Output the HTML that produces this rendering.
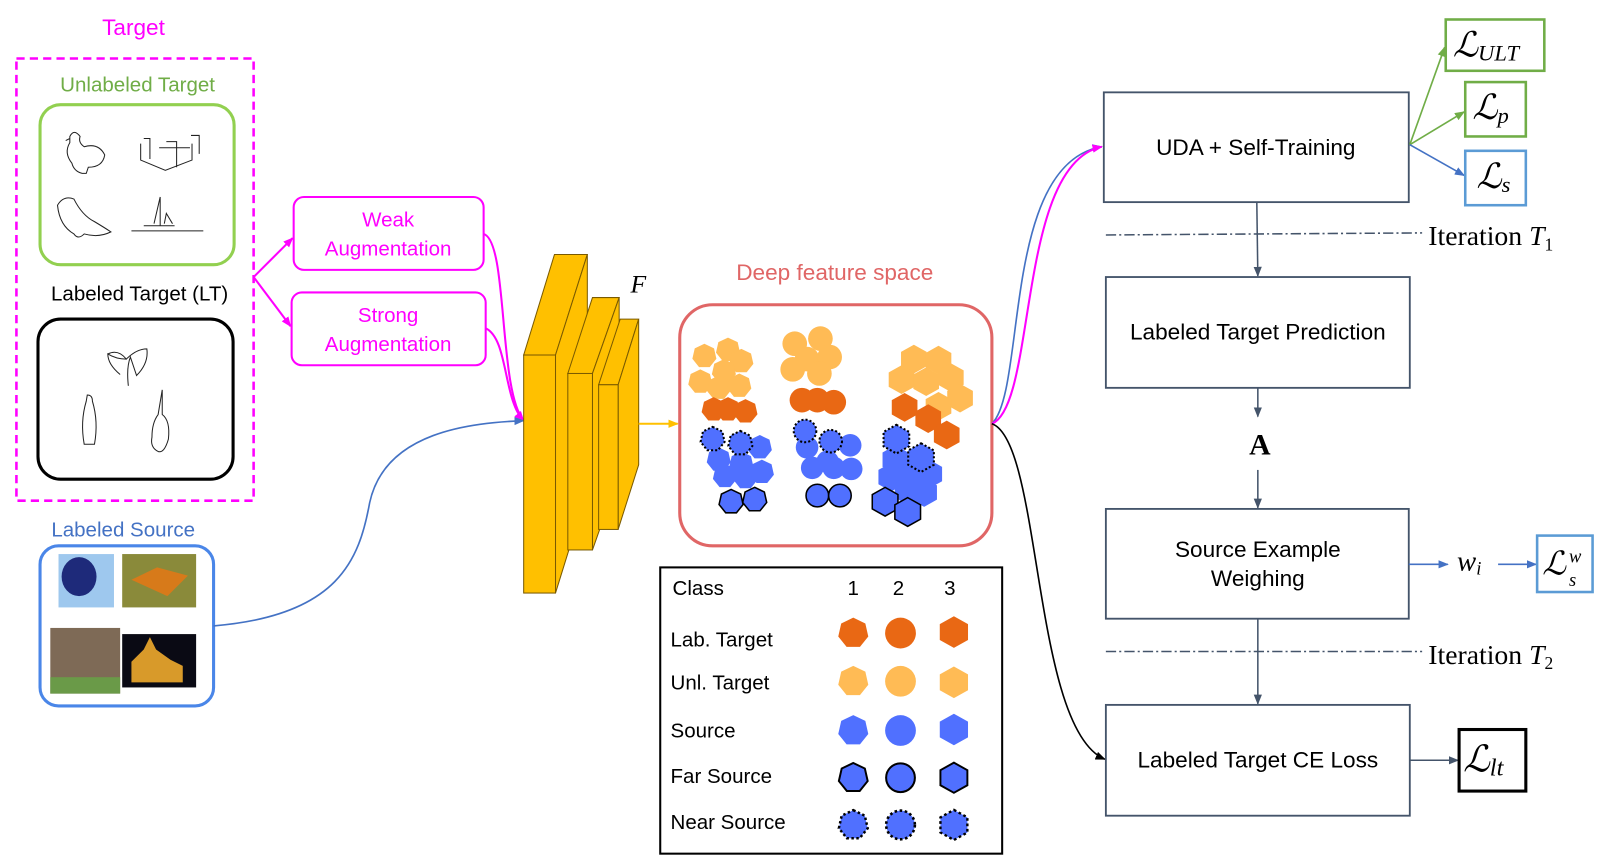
<!DOCTYPE html>
<html><head><meta charset="utf-8"><style>
html,body{margin:0;padding:0;background:#fff;}
svg{display:block;}
.s{font-family:"Liberation Sans",sans-serif;}
.m{font-family:"Liberation Serif","DejaVu Serif",serif;}
</style></head><body>
<svg width="1609" height="867" viewBox="0 0 1567 845" preserveAspectRatio="none" xmlns="http://www.w3.org/2000/svg">
<defs>
<polygon id="hep" points="0,-12 9.4,-7.5 11.7,2.7 5.2,10.8 -5.2,10.8 -11.7,2.7 -9.4,-7.5"/>
<polygon id="hex" points="0,-14 12.5,-7 12.5,7 0,14 -12.5,7 -12.5,-7"/>
<marker id="ab" markerWidth="10" markerHeight="10" refX="9" refY="5" orient="auto" markerUnits="userSpaceOnUse"><path d="M0,1 L10,5 L0,9z" fill="#4472C4"/></marker>
<marker id="ad" markerWidth="10" markerHeight="10" refX="9" refY="5" orient="auto" markerUnits="userSpaceOnUse"><path d="M0,1 L10,5 L0,9z" fill="#44546A"/></marker>
<marker id="ag" markerWidth="10" markerHeight="10" refX="9" refY="5" orient="auto" markerUnits="userSpaceOnUse"><path d="M0,1 L10,5 L0,9z" fill="#70AD47"/></marker>
<marker id="am" markerWidth="10" markerHeight="10" refX="9" refY="5" orient="auto" markerUnits="userSpaceOnUse"><path d="M0,1 L10,5 L0,9z" fill="#FF00FF"/></marker>
<marker id="ak" markerWidth="10" markerHeight="10" refX="9" refY="5" orient="auto" markerUnits="userSpaceOnUse"><path d="M0,1 L10,5 L0,9z" fill="#000"/></marker>
<marker id="ay" markerWidth="10" markerHeight="10" refX="9" refY="5" orient="auto" markerUnits="userSpaceOnUse"><path d="M0,1 L10,5 L0,9z" fill="#FFC000"/></marker>
</defs>

<!-- Left panel -->
<text x="130" y="34" class="s" font-size="22" fill="#FF00FF" text-anchor="middle">Target</text>
<rect x="16" y="57" width="231" height="431" fill="none" stroke="#FF00FF" stroke-width="2.5" stroke-dasharray="8,5"/>
<text x="134" y="89" class="s" font-size="20" fill="#70AD47" text-anchor="middle">Unlabeled Target</text>
<rect x="39" y="102" width="189" height="156" rx="20" fill="none" stroke="#92D050" stroke-width="3"/>
<g fill="none" stroke="#222" stroke-width="1">
<path d="M68,133 q4,-8 10,0 q-2,6 4,10 q14,-4 20,8 q-2,12 -16,12 l-2,6 h-4 q-8,-2 -10,-10 q-8,-10 -2,-20z M64,137 l4,-2"/>
<path d="M137,140 v16 l24,10 l26,-10 v-16 M140,135 h6 v8 M162,138 h10 v25 M186,132 h8 v18 M146,135 v20 M155,144 h30"/>
<path d="M56,200 q6,-10 16,-6 q8,16 20,22 q10,6 16,10 q-12,6 -26,2 q-6,6 -10,0 q-14,-8 -16,-28z"/>
<path d="M128,225 h70 M140,220 h30 M150,218 l6,-26 v28 M160,218 l2,-10 l6,10"/>
</g>
<text x="136" y="293" class="s" font-size="20" fill="#000" text-anchor="middle">Labeled Target (LT)</text>
<rect x="37" y="311" width="190" height="156" rx="22" fill="none" stroke="#000" stroke-width="3"/>
<g fill="none" stroke="#222" stroke-width="1">
<path d="M105,345 q10,-5 18,5 q10,-10 20,-10 q2,14 -10,26 l-6,-18 q-4,10 -2,28 M123,350 q-10,0 -18,-5 q0,10 12,20"/>
<path d="M85,385 q5,0 5,6 q6,20 2,42 h-10 q-4,-22 2,-42z"/>
<path d="M158,380 v24 q8,6 6,24 q-4,14 -10,12 q-8,-4 -6,-14 q0,-14 6,-22 z"/>
</g>
<text x="120" y="523" class="s" font-size="20" fill="#4472C4" text-anchor="middle">Labeled Source</text>
<rect x="39" y="532" width="169" height="156" rx="18" fill="none" stroke="#4A86E8" stroke-width="3"/>
<rect x="57" y="540" width="54" height="52" fill="#9EC8EE"/>
<ellipse cx="77" cy="562" rx="17" ry="19" fill="#1E2A7A"/>
<rect x="119" y="540" width="72" height="52" fill="#8A8A3A"/>
<path d="M128,565 l25,-12 l30,8 l-20,20 z" fill="#D77A1A"/>
<rect x="49" y="612" width="68" height="64" fill="#7E6A56"/>
<rect x="49" y="660" width="68" height="16" fill="#6A9A48"/>
<rect x="119" y="618" width="72" height="52" fill="#0A0A14"/>
<path d="M128,665 v-20 l12,-12 l6,-12 l6,12 l14,10 l12,6 v16z" fill="#D89A2A"/>

<!-- Augmentation boxes -->
<rect x="286" y="192" width="185" height="71" rx="10" fill="#fff" stroke="#FF00FF" stroke-width="2"/>
<text x="378" y="221" class="s" font-size="20" fill="#FF00FF" text-anchor="middle">Weak</text>
<text x="378" y="249" class="s" font-size="20" fill="#FF00FF" text-anchor="middle">Augmentation</text>
<rect x="284" y="285" width="189" height="71" rx="10" fill="#fff" stroke="#FF00FF" stroke-width="2"/>
<text x="378" y="314" class="s" font-size="20" fill="#FF00FF" text-anchor="middle">Strong</text>
<text x="378" y="342" class="s" font-size="20" fill="#FF00FF" text-anchor="middle">Augmentation</text>
<path d="M247,270 L285,232" stroke="#FF00FF" stroke-width="2" fill="none" marker-end="url(#am)"/>
<path d="M247,270 L283,318" stroke="#FF00FF" stroke-width="2" fill="none" marker-end="url(#am)"/>
<path d="M471,228 C495,235 485,380 510,410" stroke="#FF00FF" stroke-width="2" fill="none" marker-end="url(#am)"/>
<path d="M473,320 C495,330 490,390 510,410" stroke="#FF00FF" stroke-width="2" fill="none" marker-end="url(#am)"/>
<path d="M208,610 C330,600 350,545 360,490 C375,420 460,412 510,410" stroke="#4472C4" stroke-width="1.6" fill="none" marker-end="url(#ab)"/>

<!-- CNN blocks -->
<g fill="#FFC000" stroke="#7A5A00" stroke-width="1">
<polygon points="510,346 540,248 572,248 541,346"/>
<polygon points="541,346 572,248 572,478 541,578"/>
<rect x="510" y="346" width="31" height="232"/>
<polygon points="553,364 577,290 603,290 577,364"/>
<polygon points="577,364 603,290 603,462 577,536"/>
<rect x="553" y="364" width="24" height="172"/>
<polygon points="583,375 604,311 622,311 602,375"/>
<polygon points="602,375 622,311 622,453 602,516"/>
<rect x="583" y="375" width="19" height="141"/>
</g>
<text x="614" y="285" class="m" font-size="25" font-style="italic">F</text>
<path d="M622,413 L660,413" stroke="#FFC000" stroke-width="2" fill="none" marker-end="url(#ay)"/>

<!-- Feature space -->
<text x="813" y="273" class="s" font-size="22" fill="#E06666" text-anchor="middle">Deep feature space</text>
<rect x="662" y="297" width="304" height="235" rx="32" fill="none" stroke="#E06666" stroke-width="3"/>
<g fill="#FFBB55">
<use href="#hep" x="686" y="347"/><use href="#hep" x="709" y="341"/><use href="#hep" x="722" y="352"/>
<use href="#hep" x="705" y="362"/><use href="#hep" x="682" y="372"/><use href="#hep" x="700" y="378"/><use href="#hep" x="720" y="376"/>
<circle cx="774" cy="335" r="12"/><circle cx="799" cy="330" r="12"/><circle cx="808" cy="348" r="12"/><circle cx="786" cy="350" r="12"/><circle cx="772" cy="360" r="12"/><circle cx="798" cy="364" r="12"/>
<use href="#hex" x="890" y="350"/><use href="#hex" x="914" y="351"/><use href="#hex" x="878" y="370"/><use href="#hex" x="902" y="372"/><use href="#hex" x="926" y="368"/><use href="#hex" x="935" y="388"/><use href="#hex" x="914" y="396"/>
</g>
<g fill="#E96814">
<use href="#hep" x="695" y="399"/><use href="#hep" x="709" y="399"/><use href="#hep" x="726" y="401"/>
<circle cx="781" cy="390" r="12"/><circle cx="796" cy="390" r="12"/><circle cx="812" cy="392" r="12"/>
<use href="#hex" x="881" y="397"/><use href="#hex" x="904" y="408"/><use href="#hex" x="922" y="424"/>
</g>
<g fill="#5070FF">
<use href="#hep" x="740" y="436"/><use href="#hep" x="700" y="448"/><use href="#hep" x="722" y="452"/><use href="#hep" x="706" y="464"/><use href="#hep" x="726" y="465"/><use href="#hep" x="742" y="460"/>
<circle cx="828" cy="434" r="11"/><circle cx="786" cy="436" r="11"/><circle cx="806" cy="450" r="11"/><circle cx="791" cy="456" r="11"/><circle cx="812" cy="456" r="11"/><circle cx="829" cy="457" r="11"/>
<use href="#hex" x="872" y="448"/><use href="#hex" x="868" y="465"/><use href="#hex" x="888" y="462"/><use href="#hex" x="900" y="480"/><use href="#hex" x="884" y="478"/><use href="#hex" x="905" y="462"/>
</g>
<g fill="#5070FF" stroke="#000" stroke-width="2" stroke-dasharray="2,2">
<use href="#hep" x="694" y="428"/><use href="#hep" x="721" y="432"/>
<circle cx="784" cy="420" r="11"/><circle cx="809" cy="430" r="11"/>
<use href="#hex" x="873" y="428"/><use href="#hex" x="897" y="446"/>
</g>
<g fill="#5070FF" stroke="#000" stroke-width="1.5">
<use href="#hep" x="712" y="489"/><use href="#hep" x="735" y="487"/>
<circle cx="796" cy="483" r="11"/><circle cx="818" cy="483" r="11"/>
<use href="#hex" x="862" y="489"/><use href="#hex" x="884" y="499"/>
</g>

<!-- Legend -->
<rect x="643" y="553" width="333" height="279" fill="none" stroke="#000" stroke-width="2"/>
<g class="s" font-size="20" fill="#000">
<text x="655" y="580">Class</text>
<text x="831" y="580" text-anchor="middle">1</text><text x="875" y="580" text-anchor="middle">2</text><text x="925" y="580" text-anchor="middle">3</text>
<text x="653" y="630">Lab. Target</text>
<text x="653" y="672">Unl. Target</text>
<text x="653" y="719">Source</text>
<text x="653" y="763">Far Source</text>
<text x="653" y="808">Near Source</text>
</g>
<g transform="translate(831,617) scale(1.25)" fill="#E96814"><use href="#hep"/></g>
<circle cx="877" cy="617" r="15" fill="#E96814"/>
<g transform="translate(929,616) scale(1.1)" fill="#E96814"><use href="#hex"/></g>
<g transform="translate(831,664) scale(1.25)" fill="#FFBB55"><use href="#hep"/></g>
<circle cx="877" cy="664" r="15" fill="#FFBB55"/>
<g transform="translate(929,665) scale(1.1)" fill="#FFBB55"><use href="#hex"/></g>
<g transform="translate(831,712) scale(1.25)" fill="#5070FF"><use href="#hep"/></g>
<circle cx="877" cy="712" r="15" fill="#5070FF"/>
<g transform="translate(929,711) scale(1.1)" fill="#5070FF"><use href="#hex"/></g>
<g transform="translate(831,758) scale(1.2)" fill="#5070FF" stroke="#000" stroke-width="1.6"><use href="#hep"/></g>
<circle cx="877" cy="758" r="14" fill="#5070FF" stroke="#000" stroke-width="2"/>
<g transform="translate(929,758) scale(1.05)" fill="#5070FF" stroke="#000" stroke-width="1.8"><use href="#hex"/></g>
<g transform="translate(831,804) scale(1.2)" fill="#5070FF" stroke="#000" stroke-width="2" stroke-dasharray="2,2"><use href="#hep"/></g>
<circle cx="877" cy="804" r="14" fill="#5070FF" stroke="#000" stroke-width="2.5" stroke-dasharray="2.5,2.5"/>
<g transform="translate(929,804) scale(1.05)" fill="#5070FF" stroke="#000" stroke-width="2.2" stroke-dasharray="2.5,2.5"><use href="#hex"/></g>

<!-- Curves to right -->
<path d="M966,413 C1000,380 975,160 1073,143" stroke="#4472C4" stroke-width="1.6" fill="none" marker-end="url(#ab)"/>
<path d="M966,413 C1010,395 990,160 1073,143" stroke="#FF00FF" stroke-width="2" fill="none" marker-end="url(#am)"/>
<path d="M966,413 C1015,430 1005,710 1076,740" stroke="#000" stroke-width="1.6" fill="none" marker-end="url(#ak)"/>

<!-- Right boxes -->
<g fill="#fff" stroke="#44546A" stroke-width="1.8">
<rect x="1075" y="90" width="297" height="107"/>
<rect x="1077" y="270" width="296" height="108"/>
<rect x="1077" y="496" width="295" height="107"/>
<rect x="1077" y="687" width="296" height="108"/>
</g>
<g class="s" font-size="22" fill="#000" text-anchor="middle">
<text x="1223" y="151">UDA + Self-Training</text>
<text x="1225" y="331">Labeled Target Prediction</text>
<text x="1225" y="543">Source Example</text>
<text x="1225" y="571">Weighing</text>
<text x="1225" y="748">Labeled Target CE Loss</text>
</g>
<text x="1227" y="443" class="m" font-size="29" font-weight="bold" text-anchor="middle">A</text>
<g stroke="#44546A" stroke-width="1.5" fill="none">
<path d="M1224,197 L1225,269" marker-end="url(#ad)"/>
<path d="M1225,378 L1225,406" marker-end="url(#ad)"/>
<path d="M1225,458 L1225,495" marker-end="url(#ad)"/>
<path d="M1225,603 L1225,686" marker-end="url(#ad)"/>
<path d="M1077,229 L1385,227" stroke-dasharray="10,3,2,3"/>
<path d="M1077,635 L1385,635" stroke-dasharray="10,3,2,3"/>
<path d="M1373,741 L1420,741" marker-end="url(#ad)"/>
</g>
<text x="1391" y="239" class="m" font-size="27">Iteration <tspan font-style="italic">T</tspan><tspan font-size="17" dy="5">1</tspan></text>
<text x="1391" y="647" class="m" font-size="27">Iteration <tspan font-style="italic">T</tspan><tspan font-size="17" dy="5">2</tspan></text>

<!-- Loss boxes -->
<path d="M1373,141 L1407,46" stroke="#70AD47" stroke-width="1.6" fill="none" marker-end="url(#ag)"/>
<path d="M1373,141 L1426,109" stroke="#70AD47" stroke-width="1.6" fill="none" marker-end="url(#ag)"/>
<path d="M1373,141 L1426,171" stroke="#4472C4" stroke-width="1.6" fill="none" marker-end="url(#ab)"/>
<rect x="1408" y="19" width="96" height="50" fill="#fff" stroke="#70AD47" stroke-width="2.5"/>
<text x="1415" y="55" class="m" font-size="34" font-style="italic">ℒ<tspan font-size="22" dy="4">ULT</tspan></text>
<rect x="1427" y="80" width="59" height="53" fill="#fff" stroke="#70AD47" stroke-width="2.5"/>
<text x="1434" y="116" class="m" font-size="34" font-style="italic">ℒ<tspan font-size="22" dy="4">p</tspan></text>
<rect x="1427" y="147" width="59" height="53" fill="#fff" stroke="#5B9BD5" stroke-width="2.5"/>
<text x="1438" y="183" class="m" font-size="34" font-style="italic">ℒ<tspan font-size="22" dy="4">s</tspan></text>
<path d="M1372,550 L1410,550" stroke="#4472C4" stroke-width="1.6" fill="none" marker-end="url(#ab)"/>
<text x="1419" y="556" class="m" font-size="28" font-style="italic">w<tspan font-size="18" dy="4">i</tspan></text>
<path d="M1459,550 L1496,550" stroke="#4472C4" stroke-width="1.6" fill="none" marker-end="url(#ab)"/>
<rect x="1497" y="522" width="54" height="55" fill="#fff" stroke="#5B9BD5" stroke-width="2.5"/>
<text x="1502" y="560" class="m" font-size="32" font-style="italic">ℒ</text>
<text x="1528" y="548" class="m" font-size="18" font-style="italic">w</text>
<text x="1528" y="571" class="m" font-size="18" font-style="italic">s</text>
<rect x="1421" y="711" width="65" height="60" fill="#fff" stroke="#000" stroke-width="3"/>
<text x="1425" y="752" class="m" font-size="36" font-style="italic">ℒ<tspan font-size="24" dy="4">lt</tspan></text>
</svg>
</body></html>
